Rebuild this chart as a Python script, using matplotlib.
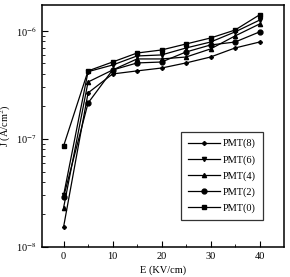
import numpy as np
import matplotlib
matplotlib.use('Agg')
import matplotlib.pyplot as plt

plt.rcParams['font.family'] = ['Liberation Serif', 'DejaVu Serif']
plt.rcParams['mathtext.fontset'] = 'stix'

# field (KV/cm)
E = [0, 5, 10, 15, 20, 25, 30, 35, 40]

# current density (A/cm2)
pmt8 = [1.53e-8, 2.67e-7, 4.0e-7, 4.27e-7, 4.54e-7, 5.06e-7, 5.74e-7, 6.96e-7, 7.9e-7]
pmt6 = [3.0e-8, 4.2e-7, 4.84e-7, 5.87e-7, 6.0e-7, 6.96e-7, 7.9e-7, 9.8e-7, 1.26e-6]
pmt4 = [2.3e-8, 3.37e-7, 4.35e-7, 5.51e-7, 5.51e-7, 5.74e-7, 6.82e-7, 8.99e-7, 1.16e-6]
pmt2 = [2.9e-8, 2.15e-7, 4.35e-7, 5.06e-7, 5.16e-7, 6.39e-7, 7.42e-7, 7.9e-7, 9.8e-7]
pmt0 = [8.6e-8, 4.27e-7, 5.16e-7, 6.25e-7, 6.67e-7, 7.58e-7, 8.61e-7, 1.02e-6, 1.41e-6]

labels = ['PMT(8)', 'PMT(6)', 'PMT(4)', 'PMT(2)', 'PMT(0)']
series = [pmt8, pmt6, pmt4, pmt2, pmt0]
markers = ['P', 'v', '^', 'o', 's']
msizes = [2.5, 3, 3, 3.5, 2.5]

fig = plt.figure(figsize=(2.9, 2.77), dpi=100)
ax = fig.add_axes([42/290, 1 - 247/277, (284-42)/290, (247-5)/277])

for y, lab, m, ms in zip(series, labels, markers, msizes):
    ax.plot(E, y, color='black', lw=0.9, marker=m, ms=ms, label=lab)

ax.set_yscale('log')
ax.set_ylim(1e-8, 1.74e-6)
ax.set_xlim(-4.4, 45)
ax.set_xticks([0, 10, 20, 30, 40])
ax.set_xticks([5, 15, 25, 35], minor=True)
ax.set_yticks([1e-8, 1e-7, 1e-6])
ax.set_yticklabels(['10$^{-8}$', '10$^{-7}$', '10$^{-6}$'])
ax.tick_params(axis='both', which='both', direction='in', labelsize=7.5, top=False, right=False)
ax.tick_params(which='major', length=4)
ax.tick_params(which='minor', length=2)
ax.yaxis.set_minor_formatter(matplotlib.ticker.NullFormatter())
for s in ax.spines.values():
    s.set_linewidth(1.1)

ax.set_ylabel('J (A/cm$^2$)', fontsize=7.5, labelpad=2)
ax.set_xlabel('E (KV/cm)', fontsize=7.5, labelpad=3)

leg = ax.legend(loc='lower right', fontsize=7.5,
                frameon=True, fancybox=False, edgecolor='black', handlelength=3.0,
                labelspacing=0.62, borderpad=0.7, handletextpad=0.3, borderaxespad=0)
leg.get_frame().set_linewidth(0.9)
leg.set_bbox_to_anchor((263/290, 1 - 220/277), transform=fig.transFigure)

fig.savefig('out.png', dpi=100)
